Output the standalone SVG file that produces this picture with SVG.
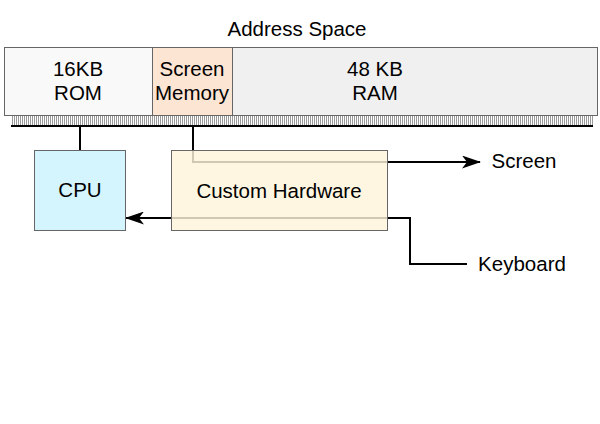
<svg xmlns="http://www.w3.org/2000/svg" width="600" height="424" viewBox="0 0 600 424">
<style>
text{font-family:"Liberation Sans",Arial,sans-serif;font-size:20.5px;fill:#000;text-anchor:middle}
.ln{fill:none;stroke:#000;stroke-width:2}
.box{stroke:#666;stroke-width:1}
</style>
<defs>
<pattern id="hatch" width="2" height="10" patternUnits="userSpaceOnUse">
<rect x="0" y="0" width="2" height="10" fill="#fff"/>
<rect x="0" y="0" width="1" height="10" fill="#999"/>
</pattern>
<marker id="arr" viewBox="0 0 19 13" refX="18" refY="6.5" markerWidth="19" markerHeight="13" markerUnits="userSpaceOnUse" orient="auto">
<path d="M0,0 L19,6.5 L0,13 L5,6.5 Z" fill="#000"/>
</marker>
</defs>
<rect width="600" height="424" fill="#fff"/>
<text x="297" y="36">Address Space</text>
<g id="address-space">
<rect class="box" x="4.5" y="47.5" width="593" height="68" fill="#f0f0f0"/>
<rect class="box" x="4.5" y="47.5" width="148" height="68" fill="#f9f9f9"/>
<text x="78" y="76">16KB</text>
<text x="78" y="100">ROM</text>
<text x="375" y="76">48 KB</text>
<text x="375" y="100">RAM</text>
</g>
<g id="screen-memory">
<rect class="box" x="152.5" y="47.5" width="80" height="68" fill="#fde5d4"/>
<text x="192" y="76">Screen</text>
<text x="192" y="100">Memory</text>
</g>
<g id="bus">
<rect x="11" y="116" width="582" height="10" fill="url(#hatch)"/>
<line x1="11" y1="126" x2="593" y2="126" stroke="#000" stroke-width="2"/>
</g>
<g id="connectors">
<path class="ln" d="M80,126 V150"/>
<path class="ln" d="M193,126 V162 H480" marker-end="url(#arr)"/>
<path class="ln" d="M467,264 H410 V218 H126" marker-end="url(#arr)"/>
</g>
<g id="cpu">
<rect class="box" x="34.5" y="150.5" width="91" height="80" fill="#d4f4fe"/>
<text x="80" y="197">CPU</text>
</g>
<g id="custom-hardware">
<rect class="box" x="171.5" y="150.5" width="216" height="80" fill="#fff4dc" fill-opacity="0.82"/>
<text x="279" y="198">Custom Hardware</text>
</g>
<text x="524" y="168">Screen</text>
<text x="522" y="271">Keyboard</text>
</svg>
